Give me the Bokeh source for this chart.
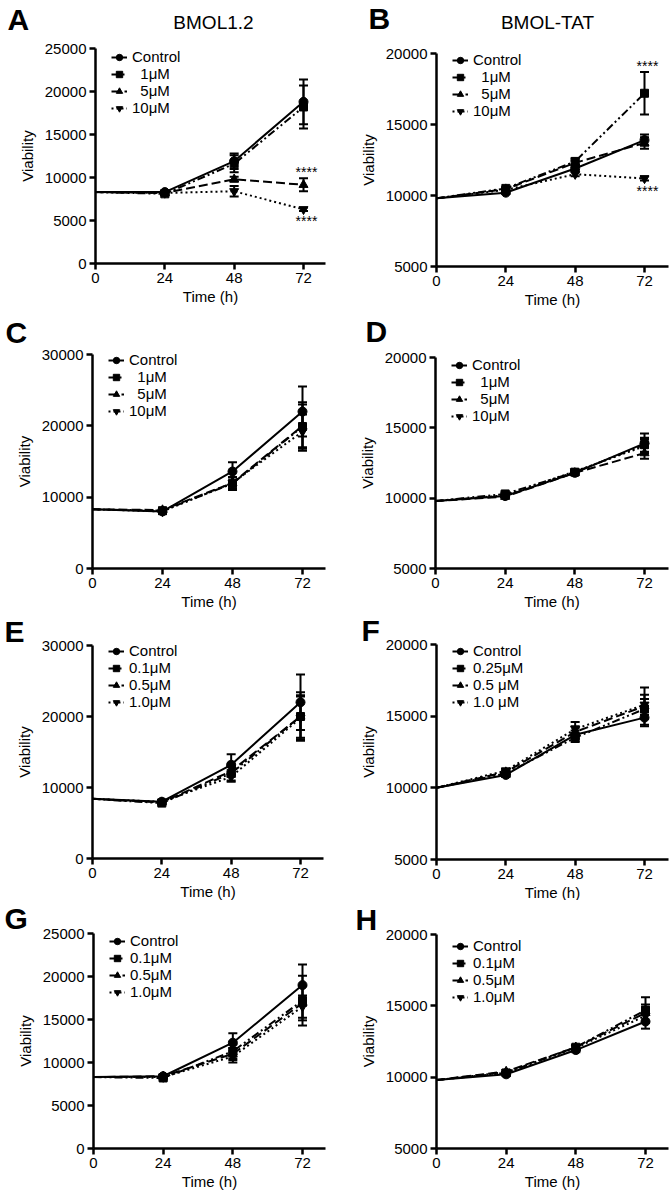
from bokeh.plotting import figure
from bokeh.layouts import column, row
from bokeh.models import (Range1d, FixedTicker, Legend, LegendItem, Whisker, TeeHead,
                          ColumnDataSource, Label, CDSView, IndexFilter)
from bokeh.embed import file_html
from bokeh.resources import INLINE
from bokeh.core.properties import value

FONT = "Liberation Sans"

# ---------------- data ----------------
T = [0, 24, 48, 72]
X_TICKS = [0, 24, 48, 72]

LAB_1 = ["Control", "\u00a0\u00a01\u03bcM", "\u00a0\u00a05\u03bcM", "10\u03bcM"]
LAB_E = ["Control", "0.1\u03bcM", "0.5\u03bcM", "1.0\u03bcM"]
LAB_F = ["Control", "0.25\u03bcM", "0.5 \u03bcM", "1.0 \u03bcM"]
LAB_G = ["Control", "0.1\u03bcM", "0.5\u03bcM", "1.0\u03bcM"]

YT_25 = [0, 5000, 10000, 15000, 20000, 25000]
YT_20 = [5000, 10000, 15000, 20000]
YT_30 = [0, 10000, 20000, 30000]

# panel A (BMOL1.2)
A_vals = [[8300, 8300, 11900, 18800], [8300, 8100, 11600, 18200],
          [8300, 8200, 9800, 9150], [8300, 8200, 8400, 6300]]
A_errs = [[0, 200, 900, 2600], [0, 200, 1000, 2500],
          [0, 200, 300, 750], [0, 150, 600, 200]]
# panel B (BMOL-TAT)
B_vals = [[9800, 10200, 11900, 13900], [9800, 10500, 12400, 17200],
          [9800, 10450, 12300, 13700], [9800, 10400, 11500, 11200]]
B_errs = [[0, 100, 150, 400], [0, 100, 200, 1500],
          [0, 100, 150, 400], [0, 100, 150, 150]]
# panel C
C_vals = [[8300, 8000, 13600, 22000], [8300, 8100, 11900, 19900],
          [8300, 8200, 12000, 20000], [8300, 8000, 12000, 19200]]
C_errs = [[0, 300, 1300, 3500], [0, 300, 900, 3400],
          [0, 300, 800, 3000], [0, 300, 800, 2400]]
# panel D
D_vals = [[9800, 10150, 11800, 13900], [9800, 10300, 11850, 13800],
          [9800, 10100, 11800, 13200], [9800, 10200, 11900, 13700]]
D_errs = [[0, 100, 150, 700], [0, 150, 100, 500],
          [0, 100, 100, 400], [0, 100, 100, 500]]
# panel E
E_vals = [[8400, 8000, 13200, 22000], [8400, 7800, 12000, 20000],
          [8400, 7900, 12300, 20000], [8400, 8000, 11500, 19800]]
E_errs = [[0, 200, 1500, 3900], [0, 200, 1000, 3400],
          [0, 200, 800, 3000], [0, 200, 700, 3000]]
# panel F
F_vals = [[10000, 10900, 13700, 14900], [10000, 11000, 13500, 15500],
          [10000, 11100, 13900, 15700], [10000, 11200, 14100, 15800]]
F_errs = [[0, 150, 300, 600], [0, 200, 300, 700],
          [0, 150, 400, 1300], [0, 150, 500, 700]]
# panel G
G_vals = [[8300, 8400, 12300, 19000], [8300, 8200, 11300, 17200],
          [8300, 8400, 11000, 16900], [8300, 8300, 10700, 16500]]
G_errs = [[0, 200, 1100, 2400], [0, 200, 800, 2900],
          [0, 200, 700, 2000], [0, 200, 700, 1300]]
# panel H
H_vals = [[9800, 10200, 11900, 13900], [9800, 10300, 12100, 14700],
          [9800, 10400, 12100, 14500], [9800, 10350, 12050, 14300]]
H_errs = [[0, 100, 150, 500], [0, 100, 150, 900],
          [0, 100, 150, 600], [0, 100, 150, 500]]

# significance marks: (series index, "above"/"below")
A_stars = [(2, "above"), (3, "below")]
B_stars = [(1, "above"), (3, "below")]

# ---------------- styling / layout ----------------
STYLES = [("solid", "circle", 9), ("8 3 2 3 2 3", "square", 8),
          ("9 4", "triangle", 9), ("2 3", "inverted_triangle", 9)]

COL_LEFT = [0, 336]
ROW_TOP = [0, 309, 612, 900]
ROW_H = [309, 303, 288, 300]
FIG_W = 336


def make_panel(col, rw, letter, letter_pos, frame, x72, vals, errs, labels,
               yticks, leg_off=10, title=None, title_pos=None, stars=None):
    L, R, Tp, Bt = frame            # axis box in page pixels
    FL, FT, FH = COL_LEFT[col], ROW_TOP[rw], ROW_H[rw]
    FB = FT + FH
    pph = (x72 - L) / 72.0          # pixels per hour
    x0 = -(L - FL) / pph
    x1 = x0 + FIG_W / pph
    x_axis_end = (R - L) / pph
    ybot, ytop = yticks[0], yticks[-1]
    ppu = (Bt - Tp) / float(ytop - ybot)
    y0 = ybot - (FB - Bt) / ppu
    y1 = ytop + (Tp - FT) / ppu

    p = figure(width=FIG_W, height=FH, output_backend="svg", toolbar_location=None,
               title=None, x_range=Range1d(x0, x1), y_range=Range1d(y0, y1),
               min_border=0, min_border_left=0, min_border_right=0,
               min_border_top=0, min_border_bottom=0)
    p.outline_line_color = None
    p.xgrid.visible = False
    p.ygrid.visible = False
    p.background_fill_color = "white"
    p.border_fill_color = "white"

    for ax in (p.xaxis[0], p.yaxis[0]):
        ax.axis_line_width = 2.5
        ax.axis_line_color = "black"
        ax.major_tick_line_width = 2.5
        ax.major_tick_line_color = "black"
        ax.major_tick_out = 6
        ax.major_tick_in = 0
        ax.minor_tick_line_color = None
        ax.major_label_text_font = FONT
        ax.major_label_text_font_size = "15px"
        ax.major_label_text_font_style = "normal"
        ax.major_label_text_color = "black"
        ax.axis_label_text_font = FONT
        ax.axis_label_text_font_size = "15px"
        ax.axis_label_text_font_style = "normal"
        ax.axis_label_text_color = "black"
    xa = p.xaxis[0]
    ya = p.yaxis[0]
    xa.ticker = FixedTicker(ticks=X_TICKS)
    ya.ticker = FixedTicker(ticks=yticks)
    xa.fixed_location = ybot
    ya.fixed_location = 0
    xa.bounds = (0, x_axis_end)
    ya.bounds = (ybot, ytop)
    xa.axis_label = "Time (h)"
    ya.axis_label = "Viability"
    xa.major_label_standoff = 3
    xa.axis_label_standoff = 2
    ya.major_label_standoff = 3
    ya.axis_label_standoff = 6

    rends = {}
    for i in reversed(range(4)):
        dash, marker, size = STYLES[i]
        src = ColumnDataSource(dict(t=T, y=vals[i]))
        ln = p.line("t", "y", source=src, line_color="black", line_width=2,
                    line_dash=dash)
        sc = p.scatter("t", "y", source=src, view=CDSView(filter=IndexFilter([1, 2, 3])),
                       marker=marker, size=size, fill_color="black", line_color="black")
        wsrc = ColumnDataSource(dict(
            t=T[1:],
            up=[v + e for v, e in zip(vals[i][1:], errs[i][1:])],
            lo=[v - e for v, e in zip(vals[i][1:], errs[i][1:])]))
        p.add_layout(Whisker(source=wsrc, base="t", upper="up", lower="lo",
                             line_color="black", line_width=2,
                             upper_head=TeeHead(size=9, line_width=2, line_color="black"),
                             lower_head=TeeHead(size=9, line_width=2, line_color="black")))
        rends[i] = [ln, sc]
    items = [LegendItem(label=labels[i], renderers=rends[i]) for i in range(4)]

    n = 4
    item_h = 18
    sp = -2
    leg_h = n * item_h + (n - 1) * sp
    leg_top = Tp + leg_off - item_h / 2.0
    leg = Legend(items=items, location=(L - FL + 16, FB - leg_top - leg_h),
                 padding=0, margin=0, spacing=sp,
                 glyph_width=16, glyph_height=16, label_height=16,
                 label_standoff=5, border_line_color=None,
                 background_fill_alpha=0,
                 label_text_font=FONT, label_text_font_size="15px",
                 label_text_color="black")
    p.add_layout(leg)

    if stars:
        for (si, where) in stars:
            v = vals[si][3]
            e = errs[si][3]
            if where == "above":
                p.text(x=[72], y=[v + e], text=["****"], text_align="center",
                       text_baseline="middle", text_font=value(FONT),
                       text_font_size="14px", text_color="black",
                       x_offset=3, y_offset=-6)
            else:
                p.text(x=[72], y=[v - e], text=["****"], text_align="center",
                       text_baseline="middle", text_font=value(FONT),
                       text_font_size="14px", text_color="black",
                       x_offset=3, y_offset=10)

    lx, lc = letter_pos
    p.add_layout(Label(x=lx - FL, y=FB - lc, x_units="screen", y_units="screen",
                       text=letter, text_font=FONT, text_font_size="30px",
                       text_font_style="bold", text_color="black",
                       text_align="left", text_baseline="middle"))
    if title:
        tx, tc = title_pos
        p.add_layout(Label(x=tx - FL, y=FB - tc, x_units="screen", y_units="screen",
                           text=title, text_font=FONT, text_font_size="19px",
                           text_color="black", text_align="center",
                           text_baseline="middle"))
    return p


pA = make_panel(0, 0, "A", (7, 19), (95, 325, 48, 263), 303, A_vals, A_errs, LAB_1,
                YT_25, leg_off=11, title="BMOL1.2", title_pos=(213, 21.5), stars=A_stars)
pB = make_panel(1, 0, "B", (368, 18), (436, 668, 53, 266), 644, B_vals, B_errs, LAB_1,
                YT_20, leg_off=9, title="BMOL-TAT", title_pos=(547, 21.5), stars=B_stars)
pC = make_panel(0, 1, "C", (5, 332), (92, 325, 354, 568), 302, C_vals, C_errs, LAB_1,
                YT_30, leg_off=8)
pD = make_panel(1, 1, "D", (365, 330.5), (435, 668, 357, 568), 644, D_vals, D_errs, LAB_1,
                YT_20, leg_off=10)
pE = make_panel(0, 2, "E", (4, 631), (92, 323, 645, 858), 300, E_vals, E_errs, LAB_E,
                YT_30, leg_off=8)
pF = make_panel(1, 2, "F", (361, 629.5), (436, 668, 644, 859), 644, F_vals, F_errs, LAB_F,
                YT_20, leg_off=9)
pG = make_panel(0, 3, "G", (4, 917.5), (93, 325, 933, 1148), 302, G_vals, G_errs, LAB_G,
                YT_25, leg_off=10)
pH = make_panel(1, 3, "H", (355, 918.5), (436, 668, 934, 1148), 645, H_vals, H_errs, LAB_G,
                YT_20, leg_off=14)

layout = column(row(pA, pB), row(pC, pD), row(pE, pF), row(pG, pH))

open("out.html", "w").write(file_html(layout, INLINE))
